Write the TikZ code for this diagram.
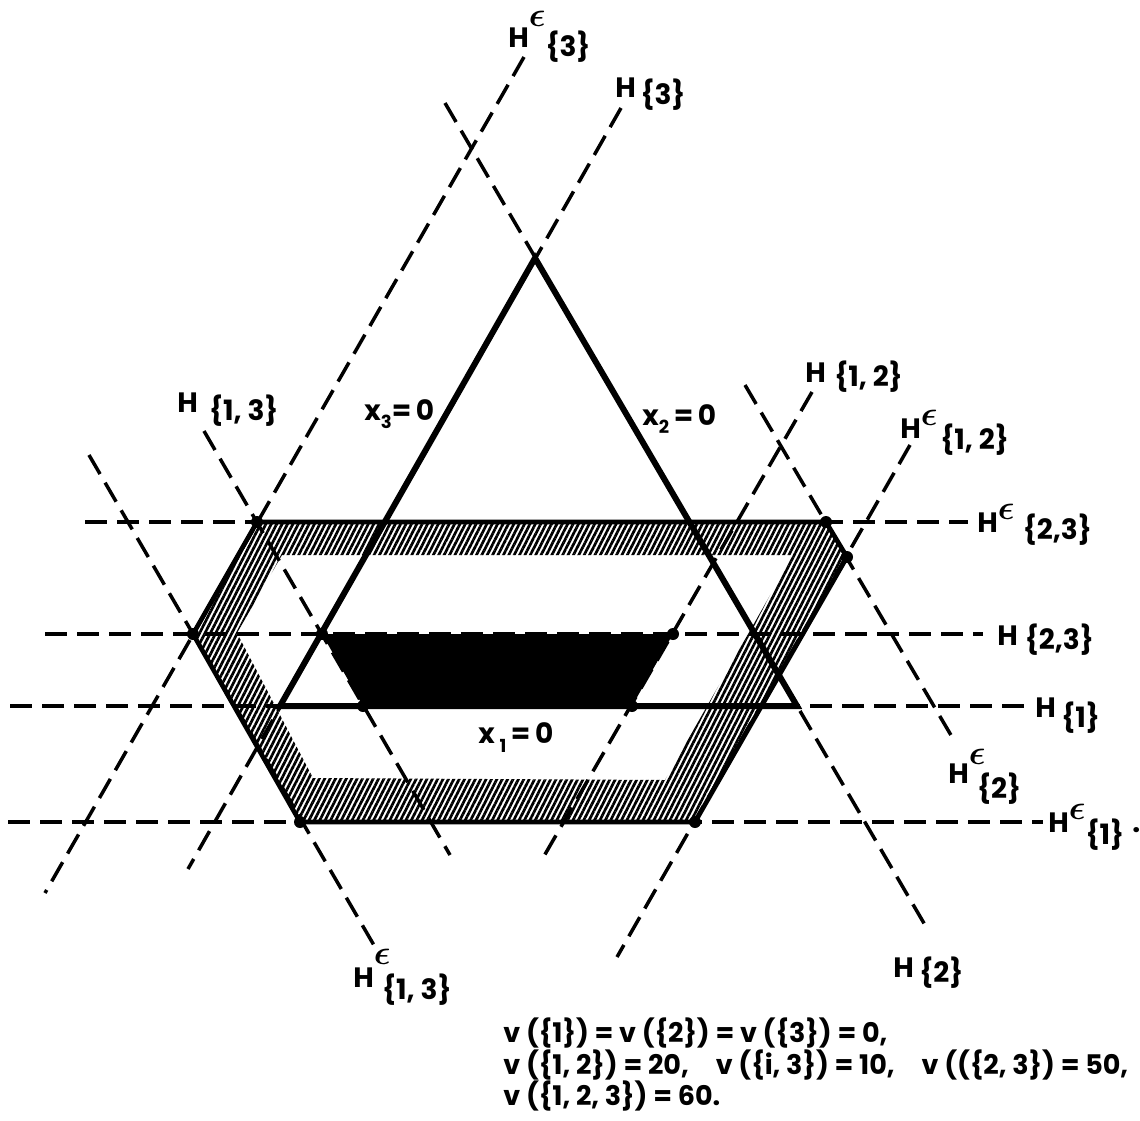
\documentclass[tikz,border=0pt]{standalone}
\usepackage{amsmath}
\usepackage{fontspec}
\setmainfont{Poppins}
\usetikzlibrary{patterns.meta}

\newcommand{\eps}{{\fontsize{18}{18}\selectfont$\boldsymbol{\epsilon}$}}

\begin{document}
\begin{tikzpicture}[x=50pt,y=-50pt,
  every node/.style={font=\fontsize{14}{16}\selectfont\bfseries,inner sep=0pt},
  hyper/.style={line width=1.75pt,dash pattern=on 11pt off 5pt},
  side/.style={line width=3pt,line join=miter},
  rim/.style={line width=2.3pt,line join=miter},
  band/.style={pattern={Lines[angle=63,distance=2.4pt,line width=1.35pt]}}]
  \path[use as bounding box] (0,0) rectangle (11.4,11.2);
  % Imputation triangle, epsilon-core rim, band and core.
  \coordinate (apex) at (5.35,2.58);
  \coordinate (bl) at (2.80,7.06);
  \coordinate (br) at (7.97,7.06);
  \coordinate (o1) at (2.57,5.22);
  \coordinate (o2) at (8.26,5.22);
  \coordinate (o3) at (8.47,5.57);
  \coordinate (o4) at (6.95,8.22);
  \coordinate (o5) at (3.00,8.22);
  \coordinate (o6) at (1.93,6.34);
  \coordinate (i1) at (2.82,5.55);
  \coordinate (i2) at (7.93,5.55);
  \coordinate (i3) at (6.65,7.80);
  \coordinate (i4) at (3.13,7.78);
  \coordinate (i5) at (2.37,6.33);
  \coordinate (c1) at (3.22,6.34);
  \coordinate (c2) at (6.73,6.34);
  \coordinate (c3) at (6.32,7.06);
  \coordinate (c4) at (3.63,7.06);

  % Horizontal hyperplanes.
  \draw[hyper] (0.85,5.22) -- (9.68,5.22);
  \draw[hyper] (0.45,6.34) -- (9.83,6.34);
  \draw[hyper] (0.10,7.06) -- (10.27,7.06);
  \draw[hyper] (0.08,8.22) -- (10.43,8.22);
  % Falling to the right.
  \draw[hyper] (4.45,1.03) -- (9.25,9.25);
  \draw[hyper] (7.45,3.85) -- (9.55,7.42);
  \draw[hyper] (2.04,4.31) -- (4.50,8.55);
  \draw[hyper] (0.89,4.55) -- (3.75,9.47);
  % Falling to the left.
  \draw[hyper] (6.21,1.08) -- (1.88,8.69);
  \draw[hyper] (5.24,0.57) -- (0.45,8.93);
  \draw[hyper] (8.12,3.92) -- (5.40,8.63);
  \draw[hyper] (9.10,4.45) -- (6.17,9.57);

  \path[band,even odd rule] (o1) -- (o2) -- (o3) -- (o4) -- (o5) -- (o6) -- cycle
    (i1) -- (i2) -- (i3) -- (i4) -- (i5) -- cycle;
  \fill (c1) -- (c2) -- (c3) -- (c4) -- cycle;
  \draw[side] (apex) -- (bl) -- (br) -- cycle;
  \draw[rim] (o1) -- (o2) -- (o3) -- (o4) -- (o5) -- (o6) -- cycle;
  \foreach \p in {o1,o2,o3,o4,o5,o6,c1,c2,c3,c4}
    \fill (\p) circle (3pt);

  % Labels of the hyperplanes.
  \node[anchor=base west] (h3eps) at (5.08,0.47)
    {H\raisebox{0.72em}{\eps}\raisebox{-0.35em}{\{3\}}};
  \node[anchor=base west] (h3) at (6.15,0.97) {H\,\raisebox{-0.25em}{\{3\}}};
  \node[anchor=base west] (h13) at (1.77,4.12)
    {H\hspace{0.4em}\raisebox{-0.3em}{\{1, 3\}}};
  \node[anchor=base west] (h12) at (8.05,3.82)
    {H\hspace{0.3em}\raisebox{-0.15em}{\{1, 2\}}};
  \node[anchor=base west] (h12eps) at (9.00,4.38)
    {H\raisebox{0.45em}{\eps}\hspace{0.1em}\raisebox{-0.4em}{\{1, 2\}}};
  \node[anchor=base west] (h23eps) at (9.77,5.32)
    {H\raisebox{0.45em}{\eps}\hspace{0.3em}\raisebox{-0.25em}{\{2,3\}}};
  \node[anchor=base west] (h23) at (9.97,6.45)
    {H\hspace{0.25em}\raisebox{-0.15em}{\{2,3\}}};
  \node[anchor=base west] (h1) at (10.35,7.17)
    {H\hspace{0.2em}\raisebox{-0.37em}{\{1\}}};
  \node[anchor=base west] (h2eps) at (9.48,7.83)
    {H\raisebox{0.65em}{\eps}\hspace{-0.3em}\raisebox{-0.55em}{\{2\}}};
  \node[anchor=base west] (h1eps) at (10.48,8.32)
    {H\raisebox{0.45em}{\eps}\raisebox{-0.45em}{\{1\}}\hspace{0.3em}.};
  \node[anchor=base west] (h2) at (8.93,9.77)
    {H\hspace{0.2em}\raisebox{-0.2em}{\{2\}}};
  \node[anchor=base west] (h13eps) at (3.53,9.87)
    {H\raisebox{0.8em}{\eps}\hspace{-0.3em}\raisebox{-0.45em}{\{1, 3\}}};
  % Sides of the triangle.
  \node[anchor=base west] (x3lab) at (3.64,4.20) {x\raisebox{-0.3em}{\small 3}=\,0};
  \node[anchor=base west] (x2lab) at (6.42,4.25) {x\raisebox{-0.3em}{\small 2}\,=\,0};
  \node[anchor=base west] (x1lab) at (4.78,7.43) {x\,\raisebox{-0.35em}{\small 1}\,=\,0};

  % Values of the game.
  \begin{scope}[every node/.style={font=\fontsize{13.5}{16}\selectfont\bfseries,
      inner sep=0pt,anchor=base west}]
    \node (vals1) at (5.03,10.42) {v (\{1\}) = v (\{2\}) = v (\{3\}) = 0,};
    \node (vals2) at (5.03,10.74)
      {v (\{1, 2\}) = 20,\quad v (\{i, 3\}) = 10,\quad v ((\{2, 3\}) = 50,};
    \node (vals3) at (5.03,11.05) {v (\{1, 2, 3\}) = 60.};
  \end{scope}
\end{tikzpicture}
\end{document}
